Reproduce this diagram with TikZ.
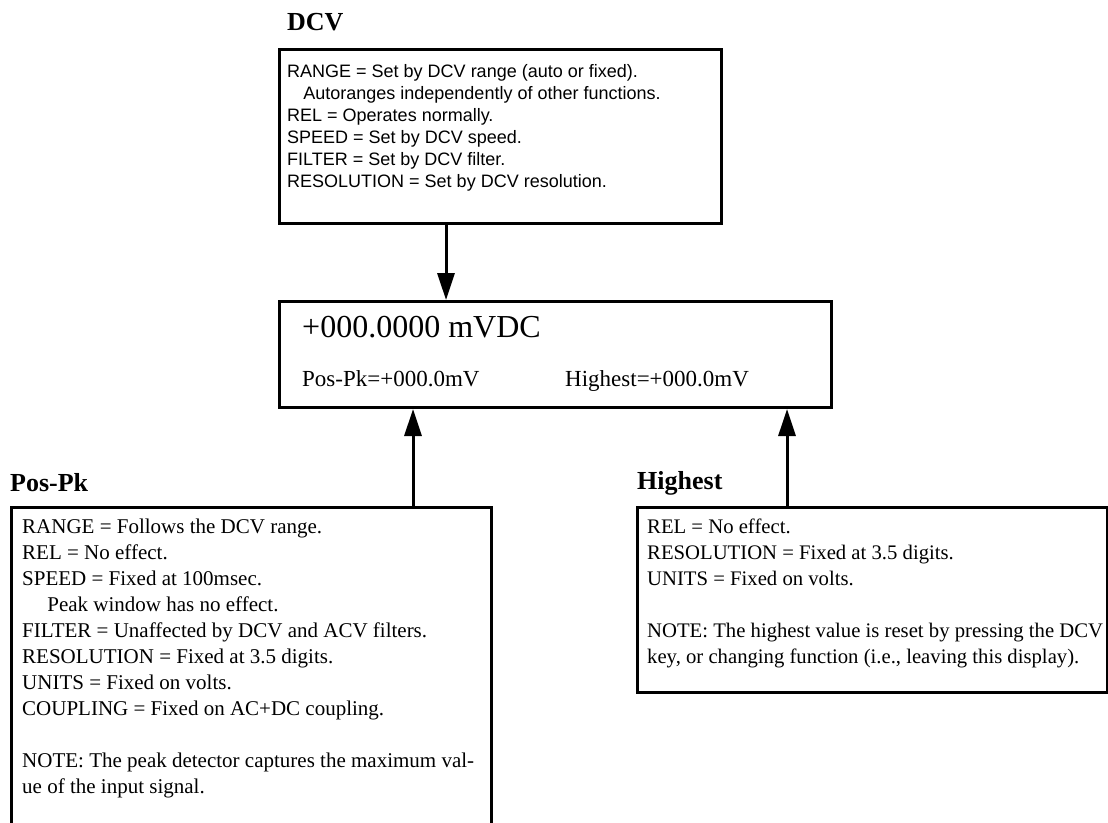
\documentclass[tikz,border=0pt]{standalone}
\usepackage{fontspec}
\setmainfont{Liberation Serif}
\newfontfamily\arialfont{Liberation Sans}
\usetikzlibrary{arrows.meta,positioning}
\tikzset{
        panel/.style={draw, line width=3pt, anchor=north west, inner sep=0pt},
        panel text/.style={anchor=north west, align=left, inner sep=0pt,
            font=\fontsize{21}{26}\selectfont},
        dcv text/.style={anchor=north west, align=left, inner sep=0pt,
            font=\arialfont\fontsize{18}{22}\selectfont},
        title/.style={anchor=west, inner sep=0pt, font=\bfseries\fontsize{26}{30}\selectfont},
        readout/.style={anchor=base west, inner sep=0pt, font=\fontsize{23}{26}\selectfont},
        feed/.style={line width=3pt, -{Triangle[length=27pt,width=17pt]}},
    }

\begin{document}
\begin{tikzpicture}[x=1pt, y=-1pt]
                \useasboundingbox[fill=white] (0,0) rectangle (1108,822);
                % DCV settings
                \node[title] (dcvtitle) at (287,22) {DCV};
                \node[panel, minimum width=442pt, minimum height=174pt] (dcvbox) at (278,48) {};
                \node[dcv text] (dcvlist) at (287,64) {RANGE = Set by DCV range (auto or fixed).\\
                    \hspace*{0.9em}Autoranges independently of other functions.\\
                    REL = Operates normally.\\
                    SPEED = Set by DCV speed.\\
                    FILTER = Set by DCV filter.\\
                    RESOLUTION = Set by DCV resolution.};
                % display
                \node[panel, minimum width=552pt, minimum height=106pt] (display) at (278,300) {};
                \node[readout, font=\fontsize{32}{34}\selectfont] (reading) at (302,337) {+000.0000 mVDC};
                \node[readout] (pospkread) at (302,386) {Pos-Pk=+000.0mV};
                \node[readout] (highestread) at (565,386) {Highest=+000.0mV};
                % Pos-Pk settings
                \node[title] (pospktitle) at (10,483) {Pos-Pk};
                \node[panel, minimum width=480pt, minimum height=340pt] (pospkbox) at (10,506) {};
                \node[panel text] (pospklist) at (22,519) {RANGE = Follows the DCV range.\\
                    REL = No effect.\\
                    SPEED = Fixed at 100msec.\\
                    \hspace*{1.2em}Peak window has no effect.\\
                    FILTER = Unaffected by DCV and ACV filters.\\
                    RESOLUTION = Fixed at 3.5 digits.\\
                    UNITS = Fixed on volts.\\
                    COUPLING = Fixed on AC+DC coupling.\\[26pt]
                    NOTE: The peak detector captures the maximum val-\\
                    ue of the input signal.};
                % Highest settings
                \node[title] (highesttitle) at (637,483) {Highest};
                \node[panel, minimum width=470pt, minimum height=185pt] (highestbox) at (636,506) {};
                \node[panel text, font=\fontsize{20.7}{26}\selectfont] (highestlist) at (647,519) {REL = No effect.\\
                    RESOLUTION = Fixed at 3.5 digits.\\
                    UNITS = Fixed on volts.\\[26pt]
                    NOTE: The highest value is reset by pressing the DCV\\
                    key, or changing function (i.e., leaving this display).};
                % arrows
                \draw[feed] ([xshift=168pt]dcvbox.south west) -- ([xshift=168pt]dcvbox.south west |- display.north);
                \draw[feed] ([xshift=403pt]pospkbox.north west) -- ([xshift=403pt]pospkbox.north west |- display.south);
                \draw[feed] ([xshift=151pt]highestbox.north west) -- ([xshift=151pt]highestbox.north west |- display.south);
            \end{tikzpicture}
\end{document}
